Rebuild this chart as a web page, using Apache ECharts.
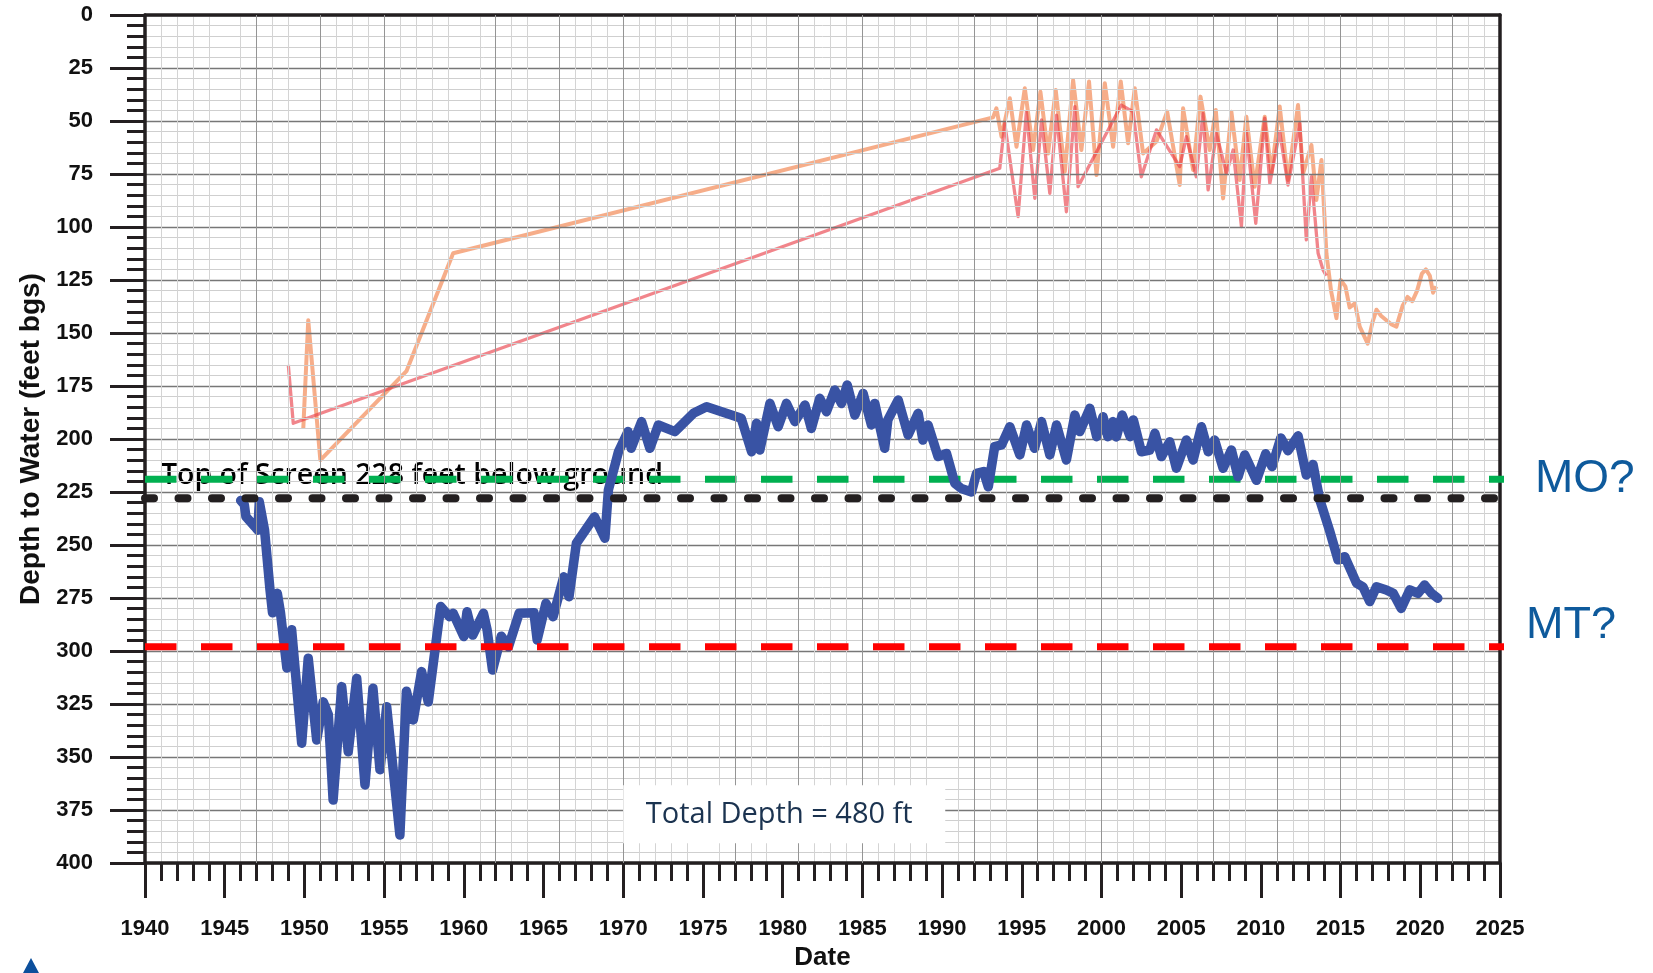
<!DOCTYPE html>
<html>
<head>
<meta charset="utf-8">
<script src="https://cdn.jsdelivr.net/npm/echarts@6/dist/echarts.min.js"></script>
<style>
  html, body { margin: 0; padding: 0; background: #ffffff; }
  #chart { width: 1653px; height: 973px; }
</style>
</head>
<body>
<div id="chart"></div>
<script>
// Depth to water, feet below ground surface, [decimal year, depth]
const wellHydrograph = [
  [1946.0,229],[1946.23,231],[1946.33,236.6],[1946.9,241.4],[1947.08,243],[1947.17,229.6],[1947.5,243],
  [1947.84,271],[1948.0,282],[1948.3,272.8],[1948.5,282],[1948.9,308],[1949.2,290],[1949.83,343.5],
  [1950.24,303.4],[1950.77,342],[1951.18,324],[1951.5,330],[1951.8,370.3],[1952.34,316.8],[1952.75,347.5],
  [1953.28,312.9],[1953.8,363.2],[1954.3,317.6],[1954.74,356],[1955.16,326.3],[1955.99,386.8],[1956.4,319],
  [1956.83,332.5],[1957.35,309.7],[1957.77,324],[1958.55,279],[1959.1,283.8],[1959.33,282.2],[1960.0,293.2],
  [1960.2,281.5],[1960.56,292.5],[1961.23,282.2],[1961.46,290],[1961.8,309],[1962.35,293],[1962.8,298],
  [1963.47,282.2],[1964.4,282],[1964.6,294.8],[1965.15,277.5],[1965.6,283.8],[1966.27,265],[1966.6,274.4],
  [1967.06,249.2],[1968.2,236.7],[1968.85,246.8],[1969.07,224],[1969.7,206],[1970.3,196.5],[1970.5,204.4],
  [1971.15,191.8],[1971.67,204.4],[1972.2,193.4],[1973.24,196.5],[1974.4,187.9],[1975.23,184.8],[1977.4,190.2],
  [1978.05,206],[1978.36,192.6],[1978.57,205.2],[1979.2,183.2],[1979.72,194.2],[1980.24,183.2],[1980.77,191.8],
  [1981.4,184],[1981.8,195],[1982.33,180.8],[1982.75,187.1],[1983.27,176.9],[1983.69,183.2],[1984.05,174.5],
  [1984.53,188.7],[1985.05,178.5],[1985.57,193.4],[1985.78,183.2],[1986.4,204.4],[1986.6,191],[1987.25,181.6],
  [1987.87,198.1],[1988.5,187.9],[1988.8,200.5],[1989.12,193.4],[1989.75,208.3],[1990.28,206.8],[1990.8,220.9],
  [1991.2,223.3],[1991.85,225],[1992.16,216.2],[1992.6,215.4],[1992.9,222.5],[1993.3,203.6],[1993.73,202.8],
  [1994.25,194.2],[1994.88,207.5],[1995.3,193.4],[1995.8,204.4],[1996.24,191.8],[1996.76,207.5],[1997.18,193.4],
  [1997.8,209.9],[1998.33,188.7],[1998.64,196.5],[1999.27,185.5],[1999.7,198.9],[2000.1,189.5],[2000.4,198.9],
  [2000.73,191.8],[2000.94,199],[2001.3,188.7],[2001.8,198.9],[2002.0,191],[2002.5,206],[2003.03,205.2],
  [2003.35,197.3],[2003.76,208.3],[2004.28,201.3],[2004.7,213.8],[2005.33,200.5],[2005.75,209.9],[2006.27,194.2],
  [2006.7,206],[2007.1,200.5],[2007.63,213.8],[2008.15,205.2],[2008.57,217.8],[2008.99,207.5],[2009.72,219.5],
  [2010.3,207],[2010.7,213],[2011.25,199.5],[2011.7,205.5],[2012.33,198.5],[2012.85,217],[2013.27,212],
  [2013.7,228.8],[2014.3,243],[2014.84,257],[2015.26,255.5],[2016.0,268],[2016.4,269.7],[2016.83,276.7],
  [2017.25,269.7],[2017.87,271.2],[2018.3,272.8],[2018.8,279.9],[2019.34,271.2],[2019.86,272.8],[2020.27,268.9],
  [2020.7,272.8],[2021.1,275.1]
];

// Nearby well records (orange and red traces)
const nearbyWellA = [
  [1949.93,195],[1950.24,144],[1951.0,210],[1956.4,168],[1959.33,112.4],[1993.2,48.3],
  [1993.41,44],[1993.73,57.4],[1994.25,39.3],[1994.67,62.1],[1995.19,34.6],[1995.71,63.7],[1996.17,36.2],
  [1996.65,65.3],[1997.13,35.4],[1997.7,73.9],[1998.22,30.7],[1998.74,63.7],[1999.22,31.4],[1999.69,75.5],
  [2000.21,32.2],[2000.73,62.1],[2001.21,31.4],[2001.67,60.5],[2002.09,34.6],[2002.61,65.3],[2003.45,59.7],
  [2004.12,45.6],[2004.91,80.2],[2005.12,44],[2005.75,73.1],[2006.21,38.5],[2006.79,63.7],[2007.17,44.8],
  [2007.63,86.5],[2008.15,45.6],[2008.67,77.8],[2009.09,48],[2009.61,81],[2010.24,48],[2010.66,74.7],
  [2011.18,43.2],[2011.7,77.8],[2012.33,42.5],[2012.65,74.7],[2013.17,61.3],[2013.48,87.3],[2013.8,68.4],
  [2014.11,112.4],[2014.4,130],[2014.74,143],[2015.0,125],[2015.3,128],[2015.57,138],[2015.9,136],
  [2016.2,147],[2016.7,155],[2017.0,145],[2017.25,139],[2017.55,142],[2017.87,144],[2018.2,146],
  [2018.5,147],[2018.9,137],[2019.2,133],[2019.5,135],[2019.8,130],[2020.1,122],[2020.35,120],
  [2020.6,123],[2020.8,131],[2021.0,128]
];

const nearbyWellB = [
  [1948.99,165],[1949.3,192.6],[1993.62,72.3],[1993.93,51.1],[1994.77,95.1],[1995.29,45.6],[1995.82,86.5],
  [1996.24,49.5],[1996.76,84.1],[1997.18,47.2],[1997.8,92.8],[1998.33,43.2],[1998.53,81],[2001.25,42.5],
  [2001.98,45.6],[2002.5,76.3],[2003.45,54.2],[2004.91,71.5],[2005.33,57.4],[2005.95,76.3],[2006.37,46.4],
  [2006.69,82.5],[2007.21,55.8],[2007.84,74.7],[2008.26,63.7],[2008.78,99.8],[2009.09,55],[2009.68,98.3],
  [2010.24,48.7],[2010.56,79.4],[2011.18,55],[2011.7,80.2],[2012.44,51.1],[2012.85,106.1],[2013.17,76.3],
  [2013.59,112.4],[2013.9,120.3],[2014.1,123]
];

// Reference depths (feet bgs)
const screenTopDepth = 228;
const measurableObjective = 219;
const minimumThreshold = 298;
const totalDepth = 480;

// Axis ranges
const yearRange = [1940, 2025];
const yearStep = 5;
const depthRange = [0, 400];
const depthStep = 25;
const referenceLineEnd = 2025.5;

// Background chart paper: heavier vertical rules repeat on a 15-year cycle
const heavyRuleCycle = 15;
const heavyRuleOffsets = [0, 7, 11];
const heavyRuleYears = [];
for (let y = yearRange[0] + 1; y < yearRange[1]; y++) {
  if (heavyRuleOffsets.includes((y - yearRange[0]) % heavyRuleCycle)) heavyRuleYears.push(y);
}

const INK = '#231f20';
const chart = echarts.init(document.getElementById('chart'), null, { renderer: 'canvas' });

function refLine(name, depth, color, width, dash, cap, z) {
  return {
    name, type: 'line', xAxisIndex: 0, yAxisIndex: 0, clip: false, silent: true,
    showSymbol: false, symbol: 'none', z,
    data: [[yearRange[0], depth], [referenceLineEnd, depth]],
    lineStyle: { color, width, type: dash, cap }
  };
}

const boldLabel = { fontFamily: 'Liberation Sans, Arial, sans-serif', fontWeight: 'bold', fontSize: 22, color: '#111111' };

const option = {
  backgroundColor: '#ffffff',
  animation: false,
  grid: { left: 145, right: 153, top: 15, bottom: 110, containLabel: false, outerBoundsMode: 'none' },
  xAxis: [
    {
      type: 'value', min: yearRange[0], max: yearRange[1], interval: yearStep, position: 'bottom', z: 3,
      name: 'Date', nameLocation: 'middle', nameGap: 82,
      nameTextStyle: { fontFamily: 'Liberation Sans, Arial, sans-serif', fontWeight: 'bold', fontSize: 26, color: '#111111' },
      axisLine: { show: true, onZero: false, lineStyle: { color: INK, width: 3.5 } },
      axisTick: { show: true, inside: false, length: 35, lineStyle: { color: INK, width: 3 } },
      minorTick: { show: true, splitNumber: 5, length: 18, lineStyle: { color: INK, width: 3 } },
      axisLabel: Object.assign({ margin: 55, formatter: v => String(v) }, boldLabel),
      splitLine: { show: false },
      minorSplitLine: { show: true, lineStyle: { color: '#d4d4d4', width: 1 } }
    },
    {
      type: 'value', min: yearRange[0], max: yearRange[1], position: 'top', z: 3,
      axisLine: { show: true, onZero: false, lineStyle: { color: INK, width: 3.5 } },
      axisTick: { show: false }, axisLabel: { show: false }, splitLine: { show: false }
    }
  ],
  yAxis: [
    {
      type: 'value', inverse: true, min: depthRange[0], max: depthRange[1], interval: depthStep, z: 3,
      name: 'Depth to Water (feet bgs)', nameLocation: 'middle', nameGap: 98, nameRotate: 90,
      nameTextStyle: { fontFamily: 'Liberation Sans, Arial, sans-serif', fontWeight: 'bold', fontSize: 28, color: '#111111' },
      axisLine: { show: true, onZero: false, lineStyle: { color: INK, width: 3.5 } },
      axisTick: { show: true, inside: false, length: 35, lineStyle: { color: INK, width: 3 } },
      minorTick: { show: true, splitNumber: 5, length: 18, lineStyle: { color: INK, width: 3 } },
      axisLabel: Object.assign({ margin: 52 }, boldLabel),
      splitLine: { show: true, lineStyle: { color: '#777777', width: 1.3 } },
      minorSplitLine: { show: true, lineStyle: { color: '#cfcfcf', width: 1 } }
    },
    {
      type: 'value', inverse: true, min: depthRange[0], max: depthRange[1], position: 'right', z: 3,
      axisLine: { show: true, onZero: false, lineStyle: { color: INK, width: 3.5 } },
      axisTick: { show: false }, axisLabel: { show: false }, splitLine: { show: false }
    }
  ],
  series: [
    {
      name: 'Paper rules', type: 'line', data: [], silent: true, z: 1,
      markLine: {
        silent: true, symbol: ['none', 'none'], label: { show: false }, animation: false,
        lineStyle: { color: '#959595', width: 1, type: 'solid' },
        data: heavyRuleYears.map(y => ({ xAxis: y }))
      }
    },
    {
      name: 'Nearby well A', type: 'line', data: nearbyWellA, showSymbol: false, symbol: 'none', silent: true, z: 2,
      lineStyle: { color: 'rgba(243,145,98,0.75)', width: 4, join: 'round' }
    },
    {
      name: 'Nearby well B', type: 'line', data: nearbyWellB, showSymbol: false, symbol: 'none', silent: true, z: 2,
      lineStyle: { color: 'rgba(232,52,62,0.6)', width: 3.3, join: 'round' }
    },
    refLine('Measurable objective', measurableObjective, '#00b050', 7, [31.5, 24.5], 'butt', 3),
    {
      name: 'Depth to water', type: 'line', data: wellHydrograph, showSymbol: false, symbol: 'none', silent: true, z: 4,
      lineStyle: { color: '#3953a4', width: 9.5, join: 'round', cap: 'round' }
    },
    refLine('Top of screen', screenTopDepth, INK, 8, [9, 24.5], 'round', 5),
    refLine('Minimum threshold', minimumThreshold, '#ff0000', 7, [31.5, 24.5], 'butt', 5)
  ]
};

chart.setOption(option);

// Annotations anchored to the reference depths
const px = (yr, d) => chart.convertToPixel({ xAxisIndex: 0, yAxisIndex: 0 }, [yr, d]);
const moPt = px(referenceLineEnd, measurableObjective);
const mtPt = px(referenceLineEnd, minimumThreshold);
const scrPt = px(1941.0, screenTopDepth);
const tdPt = px(1980.1, 377);

chart.setOption({
  graphic: [
    {
      type: 'text', z: 2, x: scrPt[0], y: scrPt[1] - 22,
      style: { text: 'Top of Screen ' + screenTopDepth + ' feet below ground', fill: '#000000',
               font: '600 28.5px "Open Sans", Lato, sans-serif', verticalAlign: 'middle', align: 'left' }
    },
    {
      type: 'text', z: 10, x: moPt[0] + 27, y: moPt[1],
      style: { text: 'MO?', fill: '#0e5a9c', font: '46px "Liberation Sans", Arial, sans-serif', verticalAlign: 'middle', align: 'left' }
    },
    {
      type: 'text', z: 10, x: mtPt[0] + 18, y: mtPt[1] - 21,
      style: { text: 'MT?', fill: '#0e5a9c', font: '45px "Liberation Sans", Arial, sans-serif', verticalAlign: 'middle', align: 'left' }
    },
    {
      type: 'rect', z: 8, shape: { x: tdPt[0] - 161, y: tdPt[1] - 29, width: 322, height: 58 },
      style: { fill: '#ffffff' }
    },
    {
      type: 'text', z: 9, x: tdPt[0] - 5, y: tdPt[1],
      style: { text: 'Total Depth = ' + totalDepth + ' ft', fill: '#1b3350', font: '29px "Open Sans", sans-serif',
               align: 'center', verticalAlign: 'middle' }
    },
    {
      type: 'polygon', z: 10, shape: { points: [[23, 973], [31, 958], [39, 973]] },
      style: { fill: '#0c4f9c' }
    }
  ]
});
</script>
</body>
</html>
